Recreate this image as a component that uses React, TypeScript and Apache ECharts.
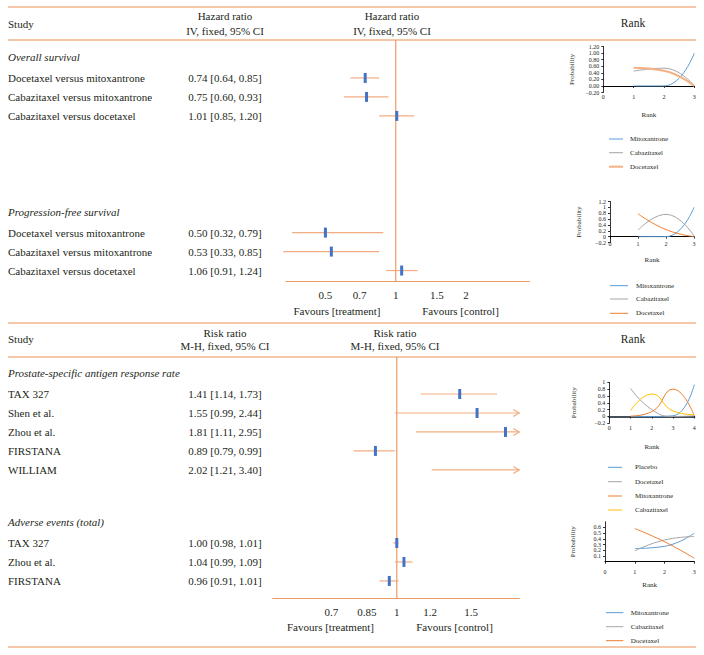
import React, { useEffect, useRef } from "react";
import * as echarts from "echarts";

// ---------------- Data ----------------
// Hazard ratio panel (IV, fixed, 95% CI)
const hrGroups = ["Overall survival", "Progression-free survival"];
const hrStudies = [
  ["Docetaxel versus mitoxantrone", "Cabazitaxel versus mitoxantrone", "Cabazitaxel versus docetaxel"],
  ["Docetaxel versus mitoxantrone", "Cabazitaxel versus mitoxantrone", "Cabazitaxel versus docetaxel"],
];
const hrLabels = [
  ["0.74 [0.64, 0.85]", "0.75 [0.60, 0.93]", "1.01 [0.85, 1.20]"],
  ["0.50 [0.32, 0.79]", "0.53 [0.33, 0.85]", "1.06 [0.91, 1.24]"],
];
const hrEst = [[0.74, 0.75, 1.01], [0.5, 0.53, 1.06]];
const hrLow = [[0.64, 0.6, 0.85], [0.36, 0.33, 0.91]];
const hrHigh = [[0.85, 0.93, 1.2], [0.885, 0.85, 1.24]];
const hrTicks = [0.5, 0.7, 1, 1.5, 2];

// Risk ratio panel (M-H, fixed, 95% CI)
const rrGroups = ["Prostate-specific antigen response rate", "Adverse events (total)"];
const rrStudies = [
  ["TAX 327", "Shen et al.", "Zhou et al.", "FIRSTANA", "WILLIAM"],
  ["TAX 327", "Zhou et al.", "FIRSTANA"],
];
const rrLabels = [
  ["1.41 [1.14, 1.73]", "1.55 [0.99, 2.44]", "1.81 [1.11, 2.95]", "0.89 [0.79, 0.99]", "2.02 [1.21, 3.40]"],
  ["1.00 [0.98, 1.01]", "1.04 [0.99, 1.09]", "0.96 [0.91, 1.01]"],
];
const rrEst = [[1.41, 1.55, 1.81, 0.89, 2.02], [1.0, 1.04, 0.96]];
const rrLow = [[1.14, 0.99, 1.11, 0.79, 1.21], [0.98, 0.99, 0.91]];
const rrHigh = [[1.73, 2.44, 2.95, 0.99, 3.4], [1.01, 1.09, 1.01]];
const rrTicks = [0.7, 0.85, 1, 1.2, 1.5];

// Rank probability plots
const osRanks = [1, 2, 3];
const osMito = [0, 0, 1];
const osCaba = [0.45, 0.54, 0];
const osDoce = [0.55, 0.46, 0];

const pfsRanks = [1, 2, 3];
const pfsMito = [0, 0, 1];
const pfsCaba = [0.22, 0.76, 0.02];
const pfsDoce = [0.78, 0.24, 0];

const psaRanks = [1, 2, 3, 4];
const psaPlacebo = [0, 0, 0.02, 0.93];
const psaDoce = [0.82, 0.2, 0.0, 0.02];
const psaMito = [0.01, 0.14, 0.8, 0.02];
const psaCaba = [0.17, 0.66, 0.16, 0.05];

const aeRanks = [1, 2, 3];
const aeMito = [0.23, 0.27, 0.5];
const aeCaba = [0.19, 0.38, 0.44];
const aeDoce = [0.58, 0.35, 0.06];

// ---------------- Styles / layout ----------------
const FONT = '"Liberation Serif", "Times New Roman", serif';
const TXT = "#231f20";
const SEP = "#f2b48c";
const AXIS_OR = "#ec9a63";
const CI_OR = "#f2ad82";
const MARK = "#4472c4";
const BLUE = "#5b9bd5";
const GRAY = "#a5a5a5";
const ORANGE = "#ed7d31";
const LORANGE = "#f4b183";
const YELLOW = "#ffc000";

const Y_MAX = 12.7;
const GRID_H = 241;
const ROW_UNIT = GRID_H / Y_MAX;

const panels = [
  {
    top: 40, left: 286, width: 243.3, minV: 0.339, maxV: 3.73, starts: [2, 10.15],
    groups: hrGroups, studies: hrStudies, labels: hrLabels, est: hrEst, low: hrLow, high: hrHigh, ticks: hrTicks,
    favY: 311, favL: 337, favR: 460.5,
  },
  {
    top: 357, left: 272.7, width: 246.6, minV: 0.508, maxV: 1.952, starts: [1.95, 9.8],
    groups: rrGroups, studies: rrStudies, labels: rrLabels, est: rrEst, low: rrLow, high: rrHigh, ticks: rrTicks,
    favY: 627, favL: 330.5, favR: 454.5,
  },
];

const rankPlots = [
  {
    grid: { left: 603.3, top: 46.5, width: 91, height: 46 }, yMin: -0.2, yMax: 1.2, step: 0.2, dec: 2, xMax: 3,
    gapX: 18.5, gapY: 28, xMargin: 1, axisW: 1, axisC: "#000",
    ranks: osRanks,
    series: [
      { name: "Mitoxantrone", data: osMito, color: BLUE, w: 1 },
      { name: "Cabazitaxel", data: osCaba, color: GRAY, w: 1 },
      { name: "Docetaxel", data: osDoce, color: LORANGE, w: 2 },
    ],
    legend: { x1: 609, x2: 623, tx: 630, ys: [139, 152.7, 166.7] },
  },
  {
    grid: { left: 610, top: 201.5, width: 84, height: 41 }, yMin: -0.2, yMax: 1.2, step: 0.2, dec: -1, xMax: 3,
    gapX: 14, gapY: 28, xMargin: -2, axisW: 1, axisC: "#000",
    ranks: pfsRanks,
    series: [
      { name: "Mitoxantrone", data: pfsMito, color: BLUE, w: 1 },
      { name: "Cabazitaxel", data: pfsCaba, color: GRAY, w: 1 },
      { name: "Docetaxel", data: pfsDoce, color: ORANGE, w: 1 },
    ],
    legend: { x1: 610, x2: 628, tx: 636, ys: [285.7, 299, 313.3] },
  },
  {
    grid: { left: 609.3, top: 382.3, width: 85, height: 41 }, yMin: -0.2, yMax: 1, step: 0.2, dec: -1, xMax: 4,
    gapX: 20, gapY: 32, xMargin: 2, axisW: 2, axisC: "#44505e",
    ranks: psaRanks,
    series: [
      { name: "Placebo", data: psaPlacebo, color: BLUE, w: 1 },
      { name: "Docetaxel", data: psaDoce, color: GRAY, w: 1 },
      { name: "Mitoxantrone", data: psaMito, color: ORANGE, w: 1 },
      { name: "Cabazitaxel", data: psaCaba, color: YELLOW, w: 1 },
    ],
    legend: { x1: 608, x2: 622, tx: 635, ys: [467.3, 481.7, 496, 510] },
  },
  {
    grid: { left: 605, top: 521.7, width: 89.3, height: 40 }, yMin: 0, yMax: 0.7, step: 0.1, dec: -1, xMax: 3,
    gapX: 20, gapY: 29, xMargin: 7, axisW: 1, axisC: "#000",
    ranks: aeRanks,
    series: [
      { name: "Mitoxantrone", data: aeMito, color: BLUE, w: 1 },
      { name: "Cabazitaxel", data: aeCaba, color: GRAY, w: 1 },
      { name: "Docetaxel", data: aeDoce, color: ORANGE, w: 1 },
    ],
    legend: { x1: 606, x2: 623.3, tx: 630.7, ys: [612.7, 626.7, 640.7] },
  },
];

function txt(x: number, y: number, text: string, opts: any = {}) {
  const align = opts.align || "left";
  return {
    type: "text",
    x,
    y,
    silent: true,
    style: {
      text,
      fill: opts.color || TXT,
      fontSize: opts.size || 11,
      fontFamily: FONT,
      fontStyle: opts.italic ? "italic" : "normal",
      align,
      verticalAlign: "middle",
      textAlign: align,
      textVerticalAlign: "middle",
    },
  };
}

function hline(y: number) {
  return {
    type: "line",
    silent: true,
    shape: { x1: 8, y1: y, x2: 696, y2: y },
    style: { stroke: SEP, lineWidth: 1.3 },
  };
}

function buildOption() {
  const grids: any[] = [];
  const xAxes: any[] = [];
  const yAxes: any[] = [];
  const series: any[] = [];
  const graphics: any[] = [];

  // separators
  [7, 40, 323, 357, 647].forEach((y) => graphics.push(hline(y)));

  // headers
  graphics.push(txt(8, 23.5, "Study"));
  graphics.push(txt(225, 16, "Hazard ratio", { align: "center" }));
  graphics.push(txt(225, 30.7, "IV, fixed, 95% CI", { align: "center" }));
  graphics.push(txt(392, 16, "Hazard ratio", { align: "center" }));
  graphics.push(txt(392, 30.7, "IV, fixed, 95% CI", { align: "center" }));
  graphics.push(txt(633, 22.7, "Rank", { align: "center", size: 11.5 }));

  graphics.push(txt(8, 339.3, "Study"));
  graphics.push(txt(225, 332.7, "Risk ratio", { align: "center" }));
  graphics.push(txt(225, 345.7, "M-H, fixed, 95% CI", { align: "center" }));
  graphics.push(txt(395, 332.7, "Risk ratio", { align: "center" }));
  graphics.push(txt(395, 345.7, "M-H, fixed, 95% CI", { align: "center" }));
  graphics.push(txt(633, 339, "Rank", { align: "center", size: 11.5 }));

  // forest panels
  panels.forEach((p, pi) => {
    const minLn = Math.log(p.minV);
    const maxLn = Math.log(p.maxV);
    grids.push({ left: p.left, top: p.top, width: p.width, height: GRID_H, outerBoundsMode: "none", containLabel: false });
    const tickLn = p.ticks.map((t) => Math.log(t));
    xAxes.push({
      gridIndex: pi,
      type: "value",
      position: "bottom",
      min: minLn,
      max: maxLn,
      axisLine: { onZero: false, lineStyle: { color: AXIS_OR, width: 1.2 } },
      axisTick: { show: false },
      splitLine: { show: false },
      axisLabel: {
        customValues: tickLn,
        formatter: (v: number) => {
          const i = tickLn.findIndex((t) => Math.abs(t - v) < 1e-6);
          return i >= 0 ? String(p.ticks[i]) : "";
        },
        fontSize: 11,
        fontFamily: FONT,
        color: TXT,
        margin: 8,
      },
    });
    yAxes.push({ gridIndex: pi, type: "value", min: 0, max: Y_MAX, inverse: true, show: false });

    // reference line at ratio 1
    series.push({
      type: "line",
      xAxisIndex: pi,
      yAxisIndex: pi,
      data: [[0, 0], [0, Y_MAX]],
      symbol: "none",
      silent: true,
      lineStyle: { color: AXIS_OR, width: 1.2 },
      z: 1,
    });

    const data: number[][] = [];
    p.groups.forEach((g, gi) => {
      const start = p.starts[gi];
      graphics.push(txt(8, p.top + (start - 1.1) * ROW_UNIT, g, { italic: true }));
      p.studies[gi].forEach((s, si) => {
        const v = start + si;
        const y = p.top + v * ROW_UNIT;
        graphics.push(txt(8, y, s));
        graphics.push(txt(225, y, p.labels[gi][si], { align: "center" }));
        data.push([Math.log(p.est[gi][si]), Math.log(p.low[gi][si]), Math.log(p.high[gi][si]), v]);
      });
    });

    series.push({
      type: "custom",
      xAxisIndex: pi,
      yAxisIndex: pi,
      silent: true,
      z: 3,
      encode: { x: [0, 1, 2], y: 3 },
      data,
      renderItem: (params: any, api: any) => {
        const est = api.value(0);
        const lo = api.value(1);
        const hi = api.value(2);
        const yv = api.value(3);
        const hiC = Math.min(hi, maxLn);
        const pLo = api.coord([lo, yv]);
        const pHi = api.coord([hiC, yv]);
        const children: any[] = [
          {
            type: "line",
            shape: { x1: pLo[0], y1: pLo[1], x2: pHi[0], y2: pHi[1] },
            style: { stroke: CI_OR, lineWidth: 1.2 },
          },
        ];
        if (hi > maxLn) {
          children.push({
            type: "polyline",
            shape: {
              points: [
                [pHi[0] - 6, pHi[1] - 3.5],
                [pHi[0], pHi[1]],
                [pHi[0] - 6, pHi[1] + 3.5],
              ],
            },
            style: { stroke: CI_OR, lineWidth: 1.2, fill: "none" },
          });
        }
        if (est <= maxLn) {
          const pe = api.coord([est, yv]);
          children.push({
            type: "rect",
            shape: { x: pe[0] - 1.5, y: pe[1] - 5, width: 3, height: 10 },
            style: { fill: MARK },
          });
        }
        return { type: "group", children };
      },
    });

    graphics.push(txt(p.favL, p.favY, "Favours [treatment]", { align: "center" }));
    graphics.push(txt(p.favR, p.favY, "Favours [control]", { align: "center" }));
  });

  // rank plots
  rankPlots.forEach((r, ri) => {
    const gi = 2 + ri;
    grids.push({ ...r.grid, outerBoundsMode: "none", containLabel: false });
    xAxes.push({
      gridIndex: gi,
      type: "value",
      min: 0,
      max: r.xMax,
      interval: 1,
      name: "Rank",
      nameLocation: "middle",
      nameGap: r.gapX,
      nameTextStyle: { fontSize: 7, fontFamily: FONT, color: TXT },
      axisLine: { onZero: true, lineStyle: { color: r.axisC, width: r.axisW } },
      axisTick: { show: true, length: 2, lineStyle: { color: "#000", width: 0.8 } },
      splitLine: { show: false },
      axisLabel: { fontSize: 6, fontFamily: FONT, color: TXT, margin: r.xMargin },
    });
    yAxes.push({
      gridIndex: gi,
      type: "value",
      min: r.yMin,
      max: r.yMax,
      interval: r.step,
      name: "Probability",
      nameLocation: "middle",
      nameRotate: 90,
      nameGap: r.gapY,
      nameTextStyle: { fontSize: 7, fontFamily: FONT, color: TXT },
      axisLine: { show: true, onZero: false, lineStyle: { color: "#000", width: 0.8 } },
      axisTick: { show: true, length: 2, lineStyle: { color: "#000", width: 0.8 } },
      splitLine: { show: false },
      axisLabel: {
        fontSize: 6,
        fontFamily: FONT,
        color: TXT,
        margin: 4,
        formatter: (v: number) => {
          const s = r.dec > 0 ? v.toFixed(r.dec) : String(+v.toFixed(1));
          return s.replace("-", "\u2212");
        },
      },
    });
    r.series.forEach((s, si) => {
      series.push({
        type: "line",
        name: s.name,
        xAxisIndex: gi,
        yAxisIndex: gi,
        data: r.ranks.map((k, i) => [k, s.data[i]]),
        smooth: true,
        symbol: "none",
        silent: true,
        lineStyle: { color: s.color, width: s.w },
        z: 2,
      });
      const ly = r.legend.ys[si];
      graphics.push({
        type: "line",
        silent: true,
        shape: { x1: r.legend.x1, y1: ly, x2: r.legend.x2, y2: ly },
        style: { stroke: s.color, lineWidth: s.w },
      });
      graphics.push(txt(r.legend.tx, ly, s.name, { size: 7 }));
    });
  });

  return {
    animation: false,
    backgroundColor: "#ffffff",
    grid: grids,
    xAxis: xAxes,
    yAxis: yAxes,
    series,
    graphic: { elements: graphics },
  };
}

export default function App() {
  const ref = useRef<HTMLDivElement>(null);
  useEffect(() => {
    if (!ref.current) return;
    const chart = echarts.init(ref.current, null, { renderer: "svg" });
    chart.setOption(buildOption() as any);
    return () => chart.dispose();
  }, []);
  return (
    <div
      ref={ref}
      style={{ position: "absolute", left: 0, top: 0, width: 704, height: 655, background: "#fff" }}
    />
  );
}
